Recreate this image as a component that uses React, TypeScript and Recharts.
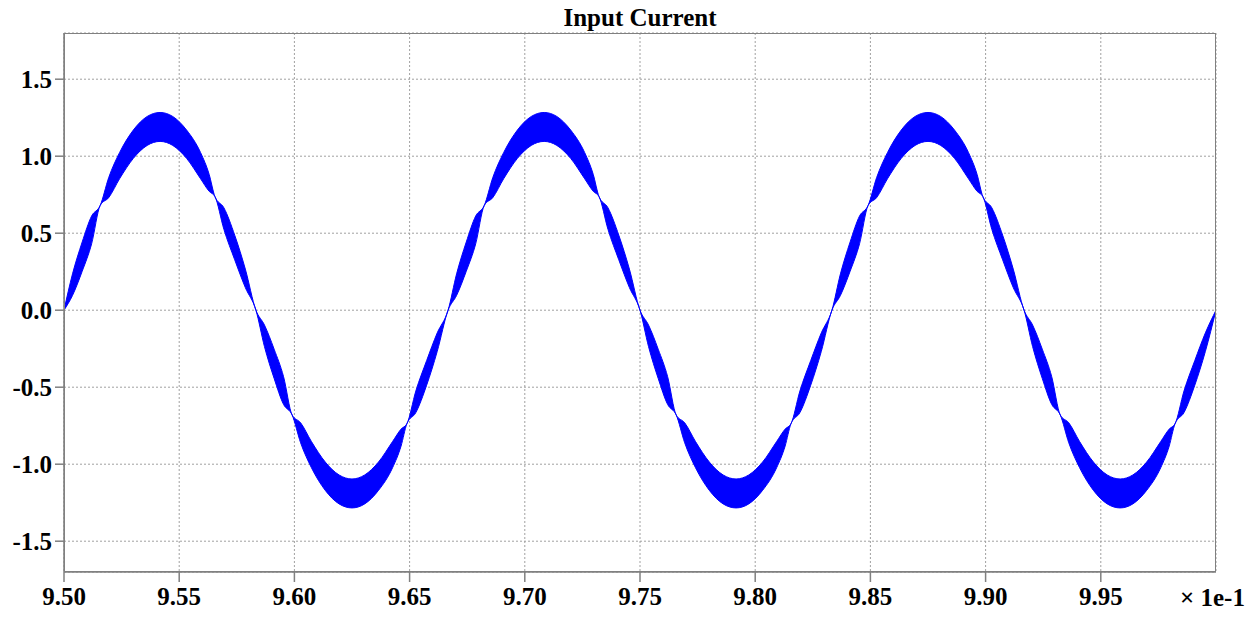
// Input Current: PFC input current band drawn as a range Area with Recharts
import { ComposedChart, Area, XAxis, YAxis, CartesianGrid } from 'recharts';

// time axis in units of 1e-1 s
const time = [
  9.5, 9.5037, 9.5079, 9.512, 9.5157, 9.5194, 9.5241, 9.5301, 9.5361, 9.5417, 9.5472, 9.5532, 9.5593, 9.563, 9.5655, 9.5694, 9.5741, 9.5787,
  9.5833, 9.587, 9.5912, 9.5953, 9.599, 9.6027, 9.6074, 9.6134, 9.6194, 9.625, 9.6305, 9.6365, 9.6426, 9.6463, 9.6488, 9.6527, 9.6574, 9.662,
  9.6667, 9.6704, 9.6746, 9.6787, 9.6824, 9.6861, 9.6908, 9.6968, 9.7028, 9.7084, 9.7139, 9.7199, 9.726, 9.7297, 9.7322, 9.7361, 9.7408, 9.7454,
  9.75, 9.7537, 9.7579, 9.762, 9.7657, 9.7694, 9.7741, 9.7801, 9.7861, 9.7917, 9.7972, 9.8032, 9.8093, 9.813, 9.8155, 9.8194, 9.8241, 9.8287,
  9.8333, 9.837, 9.8412, 9.8453, 9.849, 9.8527, 9.8574, 9.8634, 9.8694, 9.875, 9.8805, 9.8865, 9.8926, 9.8963, 9.8988, 9.9027, 9.9074, 9.912,
  9.9167, 9.9204, 9.9246, 9.9287, 9.9324, 9.9361, 9.9408, 9.9468, 9.9528, 9.9584, 9.9639, 9.9699, 9.976, 9.9797, 9.9822, 9.9861, 9.9908, 9.9954,
  10.0,
];

// lower edge of the ripple band
const lower = [
  0, 0.096, 0.253, 0.432, 0.68, 0.731, 0.853, 0.986, 1.07, 1.096, 1.07, 0.986, 0.853, 0.772, 0.738, 0.525, 0.327, 0.147,
  0, -0.236, -0.443, -0.612, -0.68, -0.861, -1.023, -1.17, -1.258, -1.284, -1.258, -1.17, -1.023, -0.882, -0.738, -0.665, -0.487, -0.267,
  0, 0.096, 0.253, 0.432, 0.68, 0.731, 0.853, 0.986, 1.07, 1.096, 1.07, 0.986, 0.853, 0.772, 0.738, 0.525, 0.327, 0.147,
  0, -0.236, -0.443, -0.612, -0.68, -0.861, -1.023, -1.17, -1.258, -1.284, -1.258, -1.17, -1.023, -0.882, -0.738, -0.665, -0.487, -0.267,
  0, 0.096, 0.253, 0.432, 0.68, 0.731, 0.853, 0.986, 1.07, 1.096, 1.07, 0.986, 0.853, 0.772, 0.738, 0.525, 0.327, 0.147,
  0, -0.236, -0.443, -0.612, -0.68, -0.861, -1.023, -1.17, -1.258, -1.284, -1.258, -1.17, -1.023, -0.882, -0.738, -0.665, -0.487, -0.267,
  0,
];

// upper edge of the ripple band
const upper = [
  0, 0.236, 0.443, 0.612, 0.68, 0.861, 1.023, 1.17, 1.258, 1.284, 1.258, 1.17, 1.023, 0.882, 0.738, 0.665, 0.487, 0.267,
  0, -0.096, -0.253, -0.432, -0.68, -0.731, -0.853, -0.986, -1.07, -1.096, -1.07, -0.986, -0.853, -0.772, -0.738, -0.525, -0.327, -0.147,
  0, 0.236, 0.443, 0.612, 0.68, 0.861, 1.023, 1.17, 1.258, 1.284, 1.258, 1.17, 1.023, 0.882, 0.738, 0.665, 0.487, 0.267,
  0, -0.096, -0.253, -0.432, -0.68, -0.731, -0.853, -0.986, -1.07, -1.096, -1.07, -0.986, -0.853, -0.772, -0.738, -0.525, -0.327, -0.147,
  0, 0.236, 0.443, 0.612, 0.68, 0.861, 1.023, 1.17, 1.258, 1.284, 1.258, 1.17, 1.023, 0.882, 0.738, 0.665, 0.487, 0.267,
  0, -0.096, -0.253, -0.432, -0.68, -0.731, -0.853, -0.986, -1.07, -1.096, -1.07, -0.986, -0.853, -0.772, -0.738, -0.525, -0.327, -0.147,
  0,
];

const xTicks = [9.5, 9.55, 9.6, 9.65, 9.7, 9.75, 9.8, 9.85, 9.9, 9.95];
const yTicks = [-1.5, -1.0, -0.5, 0, 0.5, 1.0, 1.5];

const data = time.map((t, i) => ({ t, range: [lower[i], upper[i]] }));

const font = '"Liberation Serif", "Times New Roman", serif';
const tickStyle = { fill: '#000', fontSize: 25, fontWeight: 700, fontFamily: font };
const axisGrey = '#808080';

export default function App() {
  return (
    <div style={{ position: 'absolute', left: 0, top: 0, width: 1259, height: 617, background: '#fff' }}>
      <ComposedChart width={1259} height={617} data={data} margin={{ top: 33, right: 43, bottom: 0, left: 0 }}>
        <CartesianGrid stroke="#a0a0a0" strokeDasharray="2 2" strokeWidth={1} />
        <XAxis
          dataKey="t"
          type="number"
          domain={[9.5, 10]}
          ticks={xTicks}
          tickFormatter={(v: number) => v.toFixed(2)}
          height={45}
          tick={tickStyle}
          tickSize={10}
          tickMargin={5}
          stroke={axisGrey}
          strokeWidth={1.5}
          allowDataOverflow
        />
        <YAxis
          type="number"
          domain={[-1.7, 1.8]}
          ticks={yTicks}
          tickFormatter={(v: number) => v.toFixed(1)}
          width={64}
          tick={tickStyle}
          tickSize={9}
          tickMargin={3}
          stroke={axisGrey}
          strokeWidth={1.5}
          allowDataOverflow
        />
        <Area
          dataKey="range"
          type="monotone"
          stroke="#0000ff"
          strokeWidth={1}
          fill="#0000ff"
          fillOpacity={1}
          isAnimationActive={false}
        />
      </ComposedChart>
      <div
        style={{
          position: 'absolute', left: 64, top: 33, width: 1152, height: 539,
          border: `1.5px solid ${axisGrey}`, boxSizing: 'border-box', pointerEvents: 'none',
        }}
      />
      <div
        style={{
          position: 'absolute', left: 64, top: 5, width: 1152, textAlign: 'center',
          fontFamily: font, fontWeight: 700, fontSize: 25, lineHeight: '25px',
        }}
      >
        Input Current
      </div>
      <div
        style={{
          position: 'absolute', left: 1180, top: 585, whiteSpace: 'nowrap',
          fontFamily: font, fontWeight: 700, fontSize: 25, lineHeight: '25px',
        }}
      >
        × 1e-1
      </div>
    </div>
  );
}
